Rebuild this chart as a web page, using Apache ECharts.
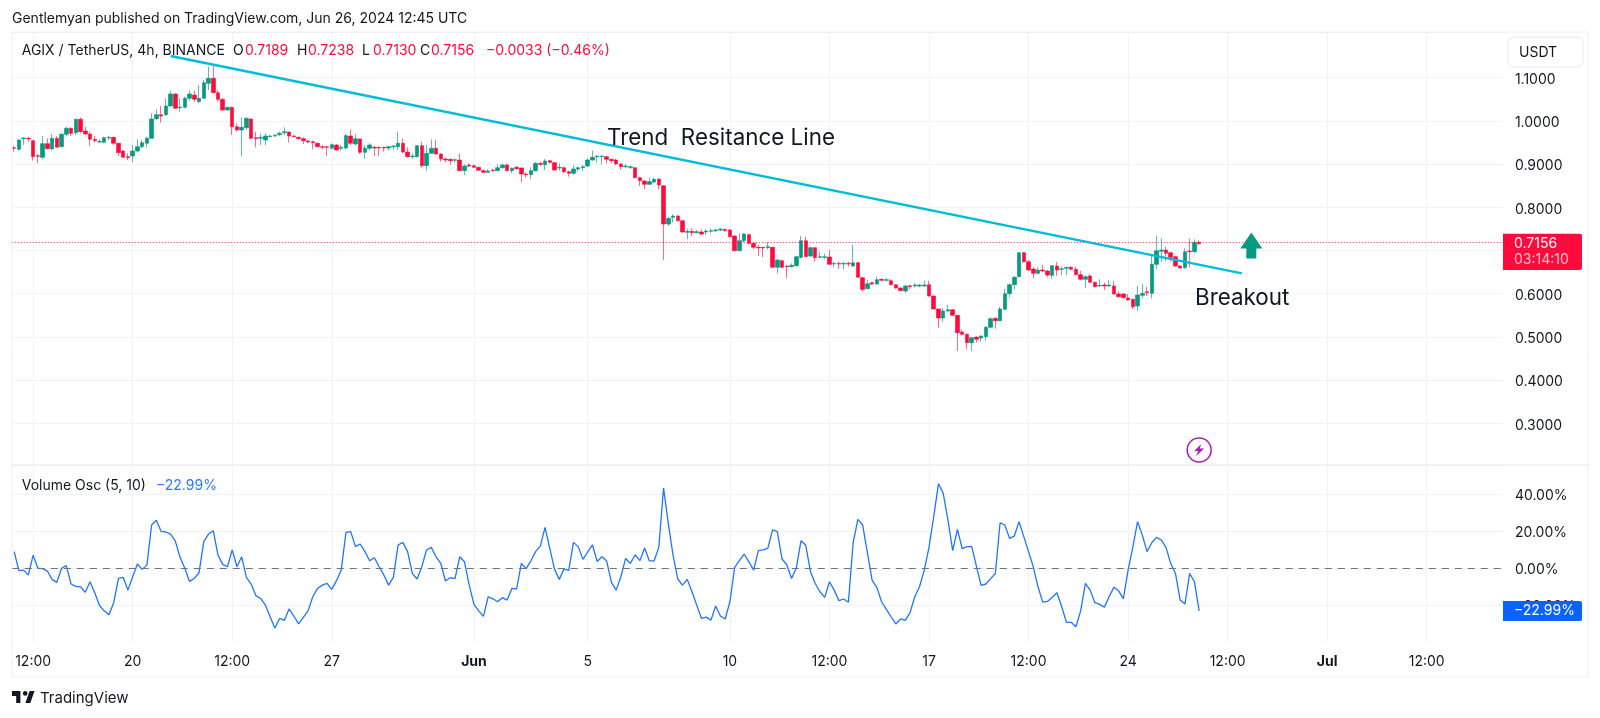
<!DOCTYPE html>
<html><head><meta charset="utf-8">
<style>html,body{margin:0;padding:0;background:#fff}#c{width:1600px;height:718px}</style>
<script src="https://cdn.jsdelivr.net/npm/echarts@6/dist/echarts.min.js"></script>
</head><body><div id="c"></div>
<script>
const opens=[.938,.9342,.9589,.9596,.9542,.9195,.9157,.9473,.9349,.9596,
.9403,.9689,.9828,.9727,1.0036,.9766,.9697,.9573,.9511,.9504,
.9604,.9619,.9481,.9303,.9172,.9187,.9303,.9403,.9481,.9596,
1.0052,1.0144,1.0144,1.0345,1.0623,1.0306,1.0314,1.0522,1.0599,1.0445,
1.0522,1.0869,1.0985,1.0653,1.0499,1.0252,1.0314,.9866,.9789,.9843,
1.0044,.9612,.9596,.9558,.9635,.965,.9681,.9727,.9743,.965,
.9619,.9589,.9535,.9519,.9481,.9403,.9403,.9365,.9442,.9365,
.9372,.965,.9465,.9581,.9272,.9365,.9388,.9388,.9388,.9372,
.9403,.9403,.948,.928,.9172,.9172,.9426,.8963,.9249,.9365,
.9233,.9118,.911,.9087,.9095,.8848,.8979,.8963,.8925,.8848,
.8809,.8863,.8848,.8917,.8979,.8848,.8925,.8909,.877,.8755,
.8848,.9017,.8987,.9079,.9033,.8909,.8917,.8824,.8786,.8886,
.8917,.8956,.9095,.9172,.9172,.9172,.911,.9095,.9002,.894,
.8917,.8917,.8686,.8608,.8531,.8585,.8655,.85,.7613,.7767,
.7798,.769,.742,.7443,.7412,.7428,.7428,.7443,.7459,.7474,
.7489,.7474,.7335,.6996,.7227,.7366,.7166,.7073,.7073,.7065,
.7073,.661,.6764,.6641,.6625,.6649,.684,.7227,.6872,.7065,
.6841,.6841,.6849,.6687,.6702,.6687,.6702,.6641,.6718,.637,
.6116,.6255,.6224,.6332,.6309,.6301,.6209,.6131,.6062,.6185,
.6178,.6178,.6178,.6209,.5946,.5645,.5437,.5599,.563,.5499,
.5113,.5059,.4866,.4997,.4974,.5005,.5221,.5429,.5375,.5638,
.6,.6209,.6394,.6949,.6741,.6571,.6471,.6548,.6525,.6425,
.6641,.6564,.6587,.661,.6564,.644,.6332,.6409,.6263,.6178,
.6201,.6178,.6178,.5993,.5993,.59,.5869,.5715,.5962,.6047,
.6008,.6679,.698,.7011,.6949,.6857,.6641,.6602,.6988,.6972,
.7189];
const closes=[.9365,.9558,.9604,.9581,.9172,.918,.9473,.9357,.9596,.9388,
.9689,.9828,.9712,1.0036,.9751,.9697,.9573,.9542,.9527,.9612,
.9619,.9481,.9265,.9157,.9149,.9303,.9403,.9496,.9596,1.0044,
1.0144,1.0113,1.0345,1.0623,1.0291,1.0322,1.0522,1.0623,1.0499,1.0522,
1.0885,1.0985,1.0653,1.0499,1.0252,1.0314,.9866,.9789,.9851,1.0059,
.9596,.9589,.9619,.965,.965,.9666,.9712,.9751,.965,.9635,
.9589,.9542,.9511,.9496,.9403,.9388,.9388,.945,.9326,.9388,
.9658,.9481,.9589,.9272,.9365,.9442,.9372,.9372,.9372,.9403,
.9419,.9481,.928,.9172,.9187,.9426,.8963,.9249,.9365,.9233,
.9118,.9095,.9079,.9102,.8848,.8956,.8956,.8925,.8856,.8809,
.884,.8848,.8917,.8979,.8848,.8902,.8894,.877,.8755,.8848,
.9017,.8994,.9071,.904,.8863,.8925,.8824,.8786,.8886,.8917,
.894,.9095,.9156,.9187,.9187,.911,.9079,.9002,.894,.8956,
.894,.8686,.8616,.8531,.8593,.8647,.8516,.7613,.7744,.7798,
.769,.7428,.7443,.7412,.7436,.7382,.7451,.7459,.7474,.7497,
.7459,.732,.6996,.7227,.7382,.7166,.7073,.7058,.7058,.7088,
.661,.678,.661,.6625,.6656,.6857,.7227,.6857,.7065,.6834,
.6857,.6857,.6679,.6702,.6687,.6702,.6687,.6718,.6378,.61,
.6232,.6224,.6324,.6309,.6324,.6209,.6131,.607,.6178,.6162,
.6201,.6201,.6201,.5946,.5645,.5437,.5599,.563,.5499,.5097,
.5059,.4866,.4982,.4943,.502,.5221,.5422,.5375,.5645,.6,
.6209,.6378,.6949,.6741,.6548,.6471,.6548,.6525,.6432,.6648,
.6548,.6579,.661,.6564,.644,.6332,.6394,.6263,.6162,.6193,
.6178,.6201,.5993,.5931,.5908,.5854,.5699,.5969,.6008,.6023,
.6679,.6996,.7011,.6934,.6841,.6641,.6594,.6972,.6972,.7189,
.7156];
const lows=[.9288,.9311,.9442,.9519,.9079,.9018,.911,.9342,.9326,.9388,
.9388,.965,.965,.9673,.9712,.9673,.9419,.9496,.9481,.9481,
.9558,.9442,.9187,.9141,.9095,.9048,.928,.9365,.9388,.9596,
1.0021,.9959,1.0113,1.033,1.0275,1.0214,1.0291,1.0468,1.0445,1.0422,
1.0522,1.0715,1.0638,1.0445,1.0237,1.0237,.9673,.9751,.9187,.9789,
.9573,.9388,.9442,.9442,.9619,.9635,.965,.9673,.9496,.9619,
.9573,.9465,.9481,.9342,.9388,.9342,.9187,.9342,.9311,.9311,
.9342,.9442,.9434,.9234,.9133,.9326,.9187,.9187,.9288,.9311,
.9342,.9326,.9249,.9156,.9125,.9156,.8917,.8848,.9233,.9218,
.9056,.9033,.8979,.9033,.8832,.8747,.8925,.8902,.884,.8794,
.8794,.8824,.8832,.8894,.8832,.8786,.8863,.8578,.8693,.8647,
.8824,.8956,.8863,.9017,.8848,.8848,.8786,.8709,.8747,.8824,
.884,.894,.9079,.9033,.8994,.9017,.9017,.8987,.8863,.8902,
.8894,.867,.8493,.8416,.8516,.8554,.8416,.678,.7567,.7644,
.7667,.7412,.7258,.7335,.7397,.7351,.7358,.7397,.7428,.7451,
.7436,.7304,.698,.698,.7181,.7142,.7027,.6872,.6841,.7027,
.6595,.6471,.6587,.6363,.661,.6625,.6818,.6849,.6857,.6741,
.6818,.6795,.6664,.661,.6571,.6564,.6625,.6625,.637,.6047,
.61,.6201,.6209,.6278,.6286,.6193,.6116,.6054,.6023,.61,
.6147,.6147,.6162,.5931,.5638,.5206,.5352,.5584,.5483,.4673,
.5043,.4712,.4673,.4866,.4889,.4912,.5198,.519,.536,.5622,
.5915,.6101,.6378,.6718,.6525,.6363,.6448,.6509,.6378,.6347,
.6409,.6432,.6432,.6548,.6425,.6317,.6131,.6247,.6147,.6162,
.6085,.6162,.5977,.5908,.5885,.5838,.5638,.5599,.5892,.5946,
.5892,.6564,.6741,.676,.6741,.6625,.6579,.6579,.661,.6934,
.713];
const highs=[.9419,.9573,.9619,.9635,.9558,.9234,.965,.9596,.9697,.965,
.9727,.9866,.9851,1.0059,1.0082,.9866,.9751,.965,.9573,.9635,
.965,.9635,.9496,.9326,.9249,.9442,.9573,.9558,.9635,1.0175,
1.0268,1.0345,1.0522,1.07,1.0638,1.0522,1.0561,1.07,1.07,1.083,
1.0947,1.1255,1.129,1.0715,1.0522,1.033,1.033,.9943,1.0082,1.0082,
1.0059,.9751,.9712,.9712,.9673,.9689,.9751,.9851,.9751,.9673,
.9635,.9619,.9558,.9542,.9496,.9442,.9419,.9481,.9465,.9442,
.9697,.9789,.9697,.9596,.9442,.9481,.9419,.9403,.9403,.9419,
.9442,.9751,.9596,.9388,.9249,.9442,.9519,.9442,.9573,.9558,
.9249,.9156,.9133,.9133,.9249,.8994,.9017,.8994,.894,.8879,
.8879,.8894,.8994,.9017,.9017,.8925,.8956,.8925,.8801,.8925,
.9056,.9056,.9118,.9095,.9056,.9017,.894,.8848,.8979,.894,
.8979,.9133,.9311,.9195,.9195,.9187,.9133,.9125,.9017,.9002,
.8971,.8925,.8709,.8632,.8686,.8686,.867,.8516,.7767,.7837,
.7821,.7706,.7505,.7513,.7474,.7489,.7489,.7505,.7505,.7513,
.7505,.7505,.7351,.7397,.7397,.7382,.7181,.7127,.7088,.7204,
.7088,.6795,.678,.6656,.6703,.6872,.7335,.732,.7088,.7088,
.6972,.6934,.7011,.6741,.6741,.6741,.6741,.7127,.6733,.6394,
.6317,.6278,.6394,.6347,.6363,.6332,.6224,.6147,.6201,.6209,
.624,.6224,.6301,.6301,.5962,.5653,.5668,.5738,.5645,.5514,
.5175,.5082,.5005,.5013,.5036,.5252,.5452,.5452,.5699,.6116,
.624,.6409,.6965,.6965,.6779,.661,.661,.6664,.6548,.6664,
.6733,.6625,.6625,.6641,.6625,.6533,.6425,.6455,.6278,.6332,
.6255,.6317,.6301,.6054,.6023,.5993,.5885,.6178,.6224,.6162,
.6895,.7335,.7281,.7088,.6972,.6872,.6664,.705,.7281,.7258,
.7238];
const volumeOsc=[9.0,-1.3,-1.0,-3.7,7.1,0,-0.2,-1.5,-6.0,-7.6,
0,1.4,-8.5,-9.8,-10.0,-13.0,-7.3,-13.2,-20.1,-23.0,
-25.1,-18.6,-5.5,-4.9,-11.8,-4.6,2.3,-0.6,1.7,23.4,
25.9,19.9,19.6,18.5,14.7,5.9,0,-7.1,-5.5,-2.4,
14.4,18.5,20.3,7.1,2.1,0.8,9.9,0.8,6.2,-4.9,
-8.5,-14.8,-16.3,-19.9,-26.2,-32.3,-27.1,-28.2,-22.0,-25.8,
-30.0,-26.5,-23.0,-15.4,-10.9,-9.1,-8.2,-11.4,-6.7,-1.0,
19.4,19.8,11.7,13.1,9.0,4.1,5.7,0.8,-3.7,-9.1,
-4.9,12.6,14.0,9.0,-2.8,-5.8,0.8,9.9,11.3,6.2,
2.6,-6.9,-5.1,-5.6,6.2,3.5,-9.1,-19.5,-23.0,-26.0,
-15.4,-16.5,-18.1,-15.9,-17.2,-10.9,-11.2,2.6,-0.2,3.9,
9.0,12.0,22.1,10.8,-0.6,-6.0,-0.4,-1.1,14.0,11.7,
4.8,8.8,12.6,3.7,6.2,3.9,-7.6,-11.8,-4.6,5.3,
2.6,7.3,4.1,10.9,4.1,3.9,11.3,43.4,24.3,7.1,
-5.8,-9.1,-6.0,-12.7,-19.9,-27.1,-26.4,-28.0,-20.4,-25.8,
-27.4,-18.1,0.5,4.1,7.7,3.5,-1.0,9.5,10.0,10.8,
20.7,19.8,5.0,1.9,-5.5,0,14.9,12.4,-1.9,-8.2,
-12.7,-15.7,-7.3,-11.8,-17.5,-16.6,-18.4,13.8,26.4,23.4,
8.4,-6.4,-10.3,-18.1,-22.2,-26.2,-30.1,-27.4,-28.2,-24.0,
-15.4,-10.0,-1.0,11.3,27.9,45.7,40.5,26.1,9.5,21.0,
10.6,11.7,11.8,1.2,-9.2,-8.5,-5.6,-2.8,24.6,23.4,
16.2,17.4,25.2,17.1,9.0,0.8,-10.0,-18.3,-17.9,-15.7,
-13.2,-20.8,-29.2,-29.2,-31.6,-23.0,-8.2,-11.8,-18.6,-19.5,
-21.0,-15.4,-10.3,-12.1,-16.5,-1.0,11.3,25.2,18.0,9.0,
13.8,16.7,15.3,11.3,2.6,-2.8,-17.2,-19.3,-2.8,-7.3,
-22.99];
const axisDates=[['2024-05-16 12:00','12:00'],['2024-05-20 00:00','20'],['2024-05-23 12:00','12:00'],['2024-05-27 00:00','27'],
['2024-06-01 00:00','Jun'],['2024-06-05 00:00','5'],['2024-06-10 00:00','10'],['2024-06-13 12:00','12:00'],
['2024-06-17 00:00','17'],['2024-06-20 12:00','12:00'],['2024-06-24 00:00','24'],['2024-06-27 12:00','12:00'],
['2024-07-01 00:00','Jul'],['2024-07-04 12:00','12:00']];
const trendX=[33,259], trendY=[1.1502,.6472];
const lastPrice=.7156;
const arrowPoint=[261,.7116], boltPoint=[250,.2382];

const CATEGORY_COUNT=315, pad=n=>String(n).padStart(2,'0');
const categories=[]; const t0=Date.UTC(2024,4,15,20);
for(let i=0;i<CATEGORY_COUNT;i++){const d=new Date(t0+i*4*3600e3);
 categories.push(d.getUTCFullYear()+'-'+pad(d.getUTCMonth()+1)+'-'+pad(d.getUTCDate())+' '+pad(d.getUTCHours())+':00');}
const labelMap=Object.fromEntries(axisDates);
const isTick=(i,v)=>labelMap[v]!==undefined;
const candles=opens.map((o,i)=>[o,closes[i],lows[i],highs[i]]);

const UP='#089981',DOWN='#ff0a3c',GRID='#f0f3fa',TXT='#131722',FONT='Inter, "Noto Sans", sans-serif';
const labelRich={a:{fontSize:14,fontFamily:FONT,color:TXT,padding:[4,0,0,0]}};
const text=(x,y,t,fill,size,extra)=>({type:'text',x,y,z:60,silent:true,style:Object.assign({text:t,fill:fill||TXT,font:(size||14)+'px '+FONT,verticalAlign:'middle',align:'left'},extra||{})});
const mask=(y)=>({type:'line',z:50,silent:true,shape:{x1:12.5,y1:y,x2:1503,y2:y},style:{stroke:'#fff',lineWidth:1.4}});
const xBase={type:'category',data:categories,boundaryGap:true,axisLine:{show:false},axisTick:{show:false},
 splitLine:{show:true,interval:isTick,alignWithLabel:true,lineStyle:{color:GRID,width:1}}};
const option={animation:false,backgroundColor:'#fff',
 grid:[{left:11.8,width:1493.1,top:32,height:434.5},{left:11.8,width:1493.1,top:465,height:177.3}],
 xAxis:[Object.assign({},xBase,{gridIndex:0,axisLabel:{show:false}}),
  Object.assign({},xBase,{gridIndex:1,axisLabel:{show:true,interval:isTick,margin:12,fontSize:14,fontFamily:FONT,color:TXT,
   formatter:v=>{const s=labelMap[v]||'';return (s==='Jun'||s==='Jul')?'{b|'+s+'}':s;},rich:{b:{fontWeight:'bold',fontSize:14,fontFamily:FONT,color:TXT}}}})],
 yAxis:[{type:'value',gridIndex:0,position:'right',min:.2,max:1.2058,interval:.1,axisLine:{show:false},axisTick:{show:false},
   splitLine:{lineStyle:{color:GRID}},axisLabel:{margin:10,rich:labelRich,
   formatter:v=>(v>.25&&v<1.15)?'{a|'+v.toFixed(4)+'}':''}},
  {type:'value',gridIndex:1,position:'right',min:-40,max:55.8,interval:20,axisLine:{show:false},axisTick:{show:false},
   splitLine:{lineStyle:{color:GRID}},axisLabel:{margin:10,rich:labelRich,
   formatter:v=>(v>-30&&v<50)?'{a|'+(v<0?'\u2212':'')+Math.abs(v).toFixed(2)+'%}':''}}],
 series:[
  {type:'candlestick',name:'AGIX',xAxisIndex:0,yAxisIndex:0,data:candles,barWidth:4,
   itemStyle:{color:UP,color0:DOWN,borderColor:'rgba(8,153,129,.65)',borderColor0:'rgba(255,10,60,.6)',borderWidth:1},
   markLine:{silent:true,symbol:'none',label:{show:false},lineStyle:{color:DOWN,type:[1,2],width:1,opacity:.9},data:[{yAxis:lastPrice}]}},
  {type:'line',name:'Trend',xAxisIndex:0,yAxisIndex:0,data:trendX.map((x,i)=>[x,trendY[i]]),showSymbol:false,symbol:'none',z:5,
   lineStyle:{color:'#00bcd8',width:2.4}},
  {type:'scatter',name:'Arrow',xAxisIndex:0,yAxisIndex:0,data:[arrowPoint],symbol:'path://M11 0 L22 16 L16 16 L16 26 L6 26 L6 16 L0 16 Z',symbolSize:[22,26],itemStyle:{color:UP,opacity:1},z:6},
  {type:'scatter',name:'Ring',xAxisIndex:0,yAxisIndex:0,data:[boltPoint],symbol:'circle',symbolSize:24,itemStyle:{color:'rgba(255,255,255,0)',borderColor:'#a71fb4',borderWidth:1.5,opacity:1},z:6},
  {type:'scatter',name:'Bolt',xAxisIndex:0,yAxisIndex:0,data:[boltPoint],symbol:'path://M7 0 L0 7 L4 7 L2 12 L10 4.6 L5.6 4.6 Z',symbolSize:[10,12],itemStyle:{color:'#a71fb4',opacity:1},z:6},
  {type:'line',name:'Volume Osc',xAxisIndex:1,yAxisIndex:1,data:volumeOsc,showSymbol:false,symbol:'none',
   lineStyle:{color:'#1f75fe',width:1.3},
   markLine:{silent:true,symbol:'none',label:{show:false},lineStyle:{color:'#70737e',type:[7,6],width:1.2},data:[{yAxis:0}]}}
 ],
 graphic:[
  {type:'rect',z:50,silent:true,shape:{x:1503,y:33,width:4,height:610},style:{fill:'#fff'}},
  mask(34.6),mask(466.5),mask(642.3),
  {type:'rect',z:51,silent:true,shape:{x:12,y:32,width:1576,height:645},style:{fill:'none',stroke:'#eceef3',lineWidth:1}},
  {type:'line',z:51,silent:true,shape:{x1:12,y1:465,x2:1588,y2:465},style:{stroke:'#e6e8ef',lineWidth:1}},
  text(12,18.8,'Gentlemyan published on TradingView.com, Jun 26, 2024 12:45 UTC'),
  text(21.7,51,'AGIX / TetherUS, 4h, BINANCE'),
  text(233,51,'O'),text(245,51,'0.7189',DOWN),text(297,51,'H'),text(308,51,'0.7238',DOWN),
  text(362,51,'L'),text(373,51,'0.7130',DOWN),text(420,51,'C'),text(431,51,'0.7156',DOWN),
  text(486,51,'\u22120.0033 (\u22120.46%)',DOWN),
  text(21.7,485.5,'Volume Osc (5, 10)'),text(156,485.5,'\u221222.99%','#2979ff'),
  text(607,138,'Trend  Resitance Line',TXT,22.4),
  text(1195,298,'Breakout',TXT,22.4),
  {type:'rect',z:60,silent:true,shape:{x:1508,y:37,width:75,height:30,r:6},style:{fill:'#fff',stroke:'#e6e8ef',lineWidth:1}},
  text(1519,52.5,'USDT'),
  {type:'rect',z:59,silent:true,shape:{x:1503,y:233.7,width:79,height:36.3,r:[0,2,2,0]},style:{fill:'#ff0a3c'}},
  text(1514,243.5,'0.7156','#fff'),text(1514,260,'03:14:10','#ffc4d0'),
  {type:'rect',z:59,silent:true,shape:{x:1503,y:601,width:79,height:20,r:[0,2,2,0]},style:{fill:'#0a63ff'}},
  text(1514,611,'\u221222.99%','#fff'),
  {type:'polygon',z:60,silent:true,shape:{points:[[12,691],[20.4,691],[20.4,703],[16.2,703],[16.2,696],[12,696]]},style:{fill:TXT}},
  {type:'polygon',z:60,silent:true,shape:{points:[[30.3,703],[25.4,703],[29.6,691],[34.5,691]]},style:{fill:TXT}},
  {type:'circle',z:60,silent:true,shape:{cx:25.2,cy:693.4,r:2.3},style:{fill:TXT}},
  text(40,698.5,'TradingView',TXT,15)
 ]};
const chart=echarts.init(document.getElementById('c'),null,{width:1600,height:718,renderer:'canvas'});
chart.setOption(option);
</script></body></html>
